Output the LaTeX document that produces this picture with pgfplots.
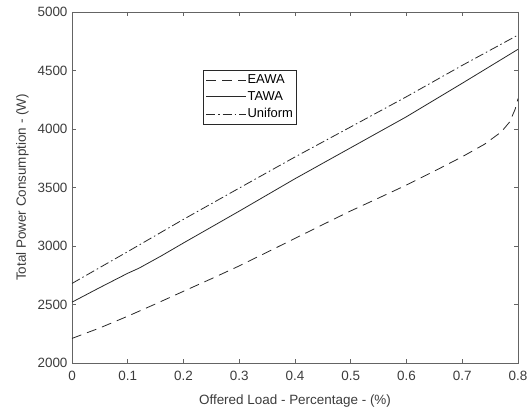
\documentclass[border=0pt]{standalone}
\usepackage{pgfplots}
\pgfplotsset{compat=1.18}
\usepackage{fontspec}
\setmainfont{Liberation Sans}
\definecolor{axgray}{RGB}{100,100,100}
\definecolor{txtgray}{RGB}{60,60,60}
\definecolor{linegray}{RGB}{40,40,40}

\begin{document}
\begin{tikzpicture}
\begin{axis}[
    scale only axis,
    width=446bp,
    height=351bp,
    xmin=0, xmax=0.8,
    ymin=2000, ymax=5000,
    xtick={0,0.1,...,0.8},
    ytick={2000,2500,...,5000},
    xticklabels={0,0.1,0.2,0.3,0.4,0.5,0.6,0.7,0.8},
    yticklabels={2000,2500,3000,3500,4000,4500,5000},
    tick align=inside,
    major tick length=4bp,
    axis line style={axgray, line width=0.6bp},
    every tick/.style={axgray, line width=0.6bp},
    tick label style={font=\fontsize{13.5}{15}\selectfont, color=txtgray},
    xticklabel style={yshift=-5bp},
    yticklabel style={xshift=-1bp},
    label style={font=\fontsize{13.5}{15}\selectfont, color=txtgray},
    xlabel={Offered Load - Percentage - (\%)},
    ylabel={Total Power Consumption - (W)},
    xlabel style={at={(axis description cs:0.5,0)}, anchor=base, yshift=-42bp},
    ylabel style={at={(axis description cs:0,0.5)}, anchor=center, yshift=49.5bp},
    legend style={
        at={(0.2937,0.8348)}, anchor=north west,
        draw=linegray, line width=0.6bp,
        font=\fontsize{13}{15}\selectfont, text=black,
        inner sep=2.5bp, row sep=2.5bp,
        cells={anchor=west},
        nodes={inner xsep=1bp},
    },
    legend image code/.code={
        \draw[#1] (0bp,0bp) -- (40bp,0bp);
    },
    every axis plot/.append style={linegray, line width=0.8bp},
]

\addplot[dash pattern=on 10bp off 6bp] coordinates {
    (0,2210) (0.05,2300) (0.1,2400) (0.15,2505) (0.2,2613) (0.25,2720)
    (0.3,2830) (0.35,2947) (0.4,3065) (0.45,3183) (0.5,3300)
    (0.55,3410) (0.6,3521) (0.65,3640) (0.7,3763) (0.74,3870)
    (0.77,3975) (0.785,4060) (0.795,4170) (0.8,4260)
};
\addlegendentry{EAWA}

\addplot[solid] coordinates {
    (0,2520) (0.05,2645) (0.1,2767) (0.12,2810) (0.16,2915) (0.2,3026)
    (0.3,3298) (0.4,3575) (0.5,3840) (0.6,4105)
    (0.7,4391) (0.8,4681)
};
\addlegendentry{TAWA}

\addplot[dash pattern=on 9bp off 3bp on 1.5bp off 3bp] coordinates {
    (0,2680) (0.1,2952) (0.2,3228) (0.3,3495) (0.4,3761)
    (0.5,4018) (0.6,4276) (0.7,4544) (0.8,4803)
};
\addlegendentry{Uniform}

\end{axis}
\path ([xshift=-72bp,yshift=-46bp]current axis.south west)
      ([xshift=13bp,yshift=12bp]current axis.north east);
\end{tikzpicture}
\end{document}
